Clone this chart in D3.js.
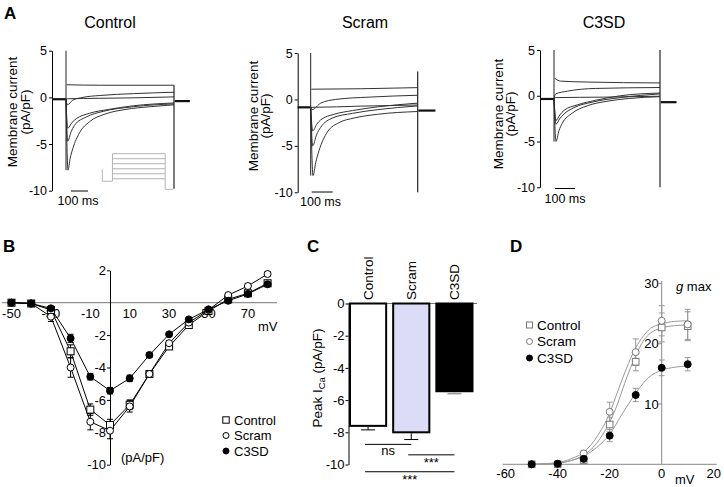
<!DOCTYPE html>
<html><head><meta charset="utf-8">
<script src="https://cdn.jsdelivr.net/npm/d3@7"></script>
<style>body{margin:0;background:#fff}svg{display:block}</style>
</head><body><svg id="c" width="724" height="487"></svg>
<script>
// ================= DATA =================
const traceGroups = ["Control", "Scram", "C3SD"];
const currentTicks = [5, 0, -5, -10];
const stepEnd = 640; // ms, end of depolarising step
// Panel A traces: [time (ms), current (pA/pF)]
const controlTraces = [
  [[4,1.35],[200,1.3],[640,1.3]],
  [[0,-0.2],[8,-0.8],[40,-0.3],[100,0],[200,0.2],[400,0.4],[640,0.55]],
  [[0,-0.2],[8,-0.15],[200,-0.1],[400,-0.05],[640,0.05]],
  [[0,-0.2],[10,-3.3],[35,-2.7],[60,-2.3],[140,-1.7],[250,-1.3],[400,-0.9],[640,-0.6]],
  [[0,-0.2],[10,-4.7],[30,-3.7],[50,-3.0],[120,-2.1],[220,-1.5],[400,-1.0],[640,-0.7]],
  [[0,-0.2],[12,-7.8],[25,-6.5],[40,-5.5],[80,-3.8],[140,-2.6],[230,-1.8],[350,-1.3],[500,-1.0],[640,-0.8]]
];
const scramTraces = [
  [[4,1.1],[300,1.15],[640,1.27]],
  [[0,-0.85],[8,-1.1],[60,-0.4],[150,0],[350,0.25],[640,0.45]],
  [[0,-0.85],[8,-0.85],[300,-0.72],[640,-0.6]],
  [[0,-0.85],[12,-3.4],[35,-2.7],[60,-2.2],[140,-1.6],[250,-1.2],[400,-0.8],[640,-0.4]],
  [[0,-0.85],[12,-5.0],[35,-3.8],[60,-3.0],[130,-2.0],[250,-1.5],[400,-1.1],[640,-0.7]],
  [[0,-0.85],[14,-8.2],[30,-6.8],[50,-5.5],[100,-3.5],[170,-2.5],[260,-2.0],[400,-1.6],[640,-1.3]]
];
const c3sdTraces = [
  [[5,1.9],[40,1.6],[200,1.5],[640,1.4]],
  [[0,-0.35],[10,0.2],[80,0.5],[250,0.8],[640,0.9]],
  [[0,-0.35],[10,-0.2],[300,-0.15],[640,-0.05]],
  [[0,-0.35],[12,-2.7],[35,-2.1],[60,-1.6],[140,-1.0],[250,-0.5],[400,0],[640,0.3]],
  [[0,-0.35],[12,-3.1],[35,-2.5],[60,-2.0],[120,-1.3],[230,-0.7],[400,-0.2],[640,0.2]],
  [[0,-0.35],[12,-5.0],[30,-3.8],[50,-3.0],[110,-1.9],[200,-1.1],[320,-0.6],[450,-0.3],[640,-0.1]]
];
// holding currents and capacitive spikes: pre, post, preStart(ms), postEnd(ms), onset spike top, end spike top/bottom
const controlBase = {pre:-0.2, post:-0.4, preStart:-83, postEnd:734, onsetTop:5, endTop:1.3, endBottom:-9.8};
const scramBase   = {pre:-0.85, post:-1.2, preStart:-78, postEnd:746, onsetTop:5, endTop:3, endBottom:-10};
const c3sdBase    = {pre:-0.35, post:-0.7, preStart:-84, postEnd:740, onsetTop:5, endTop:5, endBottom:-10};
// voltage protocol inset (ms, mV)
const protocolSteps = [0, -10, -20, -30, -40, -50];
const protocolHold = -55, protocolPre = -31, protocolTail = -71;
const protocolTimes = [0, 100, 620, 700];

// Panel B: I-V relationship
const ivVoltages = [-50,-40,-30,-20,-10,0,10,20,30,40,50,60,70,80];
const ivControl  = [0,-0.05,-0.45,-3.0,-6.6,-7.55,-6.3,-4.4,-2.7,-1.38,-0.51,0.21,0.58,1.2];
const ivScram    = [0,-0.05,-0.86,-4.0,-7.35,-7.9,-6.4,-4.4,-2.5,-1.23,-0.45,0.47,1.03,1.77];
const ivC3SD     = [0,-0.05,-0.35,-2.2,-4.57,-5.43,-4.67,-3.23,-1.95,-1.03,-0.41,0.12,0.54,1.14];
const ivControlErr = [0.05,0.05,0.15,0.4,0.35,0.35,0.3,0.2,0.15,0.1,0.1,0.1,0.15,0.15];
const ivScramErr   = [0.05,0.05,0.3,0.6,0.5,0.5,0.35,0.2,0.15,0.1,0.1,0.1,0.15,0.15];
const ivC3SDErr    = [0.05,0.05,0.1,0.25,0.2,0.2,0.2,0.15,0.1,0.1,0.1,0.1,0.1,0.1];
const ivXTicks = [-50,-30,-10,10,30,50,70];
const ivYTicks = [2,-2,-4,-6,-8,-10];

// Panel C: peak ICa
const barCategories = ["Control","Scram","C3SD"];
const barValues = [-7.6, -8.0, -5.45];
const barErrors = [0.25, 0.45, 0.15];
const barYTicks = [0,-2,-4,-6,-8,-10];
const sigTests = [
  {a:0, b:1, level:-8.75, label:"ns"},
  {a:1, b:2, level:-9.4, label:"***"},
  {a:0, b:2, level:-10.45, label:"***"}
];

// Panel D: conductance
const gVoltages = [-50,-40,-30,-20,-10,0,10];
const gControl = [0,0,0.7,6.6,17.0,22.7,22.9];
const gScram   = [0,0,1.8,8.7,18.6,23.8,23.2];
const gC3SD    = [0,0.1,0.9,4.75,11.5,16.0,16.6];
const gControlErr = [0,0,0.4,1.2,1.5,2.4,2.4];
const gScramErr   = [0,0,0.5,1.6,2.2,2.5,2.5];
const gC3SDErr    = [0,0,0.3,1.0,1.1,1.3,1.1];
const fitControl = [[-50,0],[-40,0.2],[-35,0.6],[-30,1.5],[-25,3.5],[-20,7.0],[-17,10],[-15,12.5],[-12,16],[-10,18],[-7,20.5],[-5,21.5],[0,22.6],[5,23],[10,23.1]];
const fitScram   = [[-50,0],[-40,0.3],[-35,0.9],[-30,2.0],[-25,4.5],[-20,8.5],[-17,12],[-15,14.3],[-12,17.5],[-10,19.3],[-7,21.3],[-5,22.3],[0,23.3],[5,23.7],[10,23.8]];
const fitC3SD    = [[-50,0],[-40,0.2],[-35,0.6],[-30,1.4],[-25,2.8],[-20,5.0],[-15,8.5],[-12,10.5],[-10,11.8],[-7,13.5],[-5,14.4],[0,15.6],[5,16.1],[10,16.3]];
const gXTicks = [-60,-40,-20,0,20];
const gYTicks = [10,20,30];

// ================= DRAWING =================
const FONT = '"Liberation Sans", Arial, Helvetica, sans-serif';
const svg = d3.select("#c");
svg.append("rect").attr("width",724).attr("height",487).attr("fill","#fff");
const fmt = d => String(d);

function text(x, y, s, size, opts = {}) {
  const t = svg.append("text").attr("x", x).attr("y", y).text(s)
    .attr("font-family", FONT).attr("font-size", size).attr("fill", opts.fill || "#000")
    .attr("text-anchor", opts.anchor || "start");
  if (opts.weight) t.attr("font-weight", opts.weight);
  if (opts.rotate) t.attr("transform", `rotate(-90,${x},${y})`);
  if (opts.dy) t.attr("dy", opts.dy);
  if (opts.style) t.attr("font-style", opts.style);
  return t;
}
function styleAxis(g, size, color) {
  g.selectAll("text").attr("font-family", FONT).attr("font-size", size).attr("fill", "#000");
  g.selectAll("path,line").attr("stroke", color || "#000").attr("stroke-width", 1);
}

// ---------- Panel A ----------
text(4, 19, "A", 17, {weight:"bold"});
const panelsA = [
  {name:traceGroups[0], traces:controlTraces, base:controlBase, axisX:52, onsetX:66, endX:174, y5:50.7, y10:190.7, titleX:110, labX:[12,25], labY:112, bar:[71,88,191], barTextX:78, barTextY:205, inset:true},
  {name:traceGroups[1], traces:scramTraces, base:scramBase, axisX:297.7, onsetX:310.7, endX:417.7, y5:53, y10:192.3, titleX:365, labX:[253,265], labY:116, bar:[311.7,332.7,192], barTextX:320.5, barTextY:206, inset:false},
  {name:traceGroups[2], traces:c3sdTraces, base:c3sdBase, axisX:540, onsetX:554, endX:660, y5:50, y10:187.3, titleX:604, labX:[498,510], labY:114, bar:[555,575,188.5], barTextX:565, barTextY:203, inset:false}
];
panelsA.forEach(p => {
  const t = d3.scaleLinear().domain([0, stepEnd]).range([p.onsetX, p.endX]);
  const y = d3.scaleLinear().domain([5, -10]).range([p.y5, p.y10]);
  const ax = svg.append("g").attr("transform", `translate(${p.axisX},0)`)
    .call(d3.axisLeft(y).tickValues(currentTicks).tickSize(3).tickSizeOuter(0).tickFormat(fmt));
  styleAxis(ax, 12.5, "#000");
  ax.selectAll("text").attr("x", -5);
  text(p.titleX, 28, p.name, 16, {anchor:"middle"});
  text(p.labX[0], p.labY, "Membrane current", 13.5, {anchor:"middle", rotate:true, dy:"0.35em"});
  text(p.labX[1], p.labY, "(pA/pF)", 13.5, {anchor:"middle", rotate:true, dy:"0.35em"});
  // scale bar
  svg.append("line").attr("x1", p.bar[0]).attr("x2", p.bar[1]).attr("y1", p.bar[2]).attr("y2", p.bar[2]).attr("stroke", "#000").attr("stroke-width", 1);
  text(p.barTextX, p.barTextY, "100 ms", 12.5, {anchor:"middle"});

  const line = d3.line().x(d => t(d[0])).y(d => y(d[1])).curve(d3.curveMonotoneX);
  const b = p.base;
  const g = svg.append("g").attr("fill", "none");
  g.append("path").attr("d", line([[b.preStart, b.pre], [0, b.pre]])).attr("stroke", "#111").attr("stroke-width", 2.2);
  g.append("path").attr("d", line([[stepEnd + 4, b.post], [b.postEnd, b.post]])).attr("stroke", "#111").attr("stroke-width", 2.2);
  p.traces.forEach(tr => {
    g.append("path").attr("d", line(tr)).attr("stroke", "#333").attr("stroke-width", 1);
  });
  const minPeak = d3.min(p.traces, tr => d3.min(tr, d => d[1]));
  g.append("line").attr("x1", t(0)).attr("x2", t(0)).attr("y1", y(b.onsetTop)).attr("y2", y(minPeak))
    .attr("stroke", "#222").attr("stroke-width", 1);
  g.append("line").attr("x1", t(stepEnd)).attr("x2", t(stepEnd)).attr("y1", y(b.endTop)).attr("y2", y(b.endBottom))
    .attr("stroke", "#222").attr("stroke-width", 1.2);

  if (p.inset) {
    const tx = d3.scaleLinear().domain([0, 700]).range([102.3, 173.3]);
    const vy = d3.scaleLinear().domain([0, -71]).range([153.7, 189.3]);
    const pl = d3.line().x(d => tx(d[0])).y(d => vy(d[1]));
    const ig = svg.append("g").attr("fill", "none").attr("stroke", "#b4b4b4").attr("stroke-width", 1);
    const [t0, t1, t2, t3] = protocolTimes;
    ig.append("path").attr("d", pl([[t0, protocolPre], [t0, protocolHold], [t1, protocolHold], [t1, d3.max(protocolSteps)]]));
    protocolSteps.forEach(v => ig.append("path").attr("d", pl([[t1, v], [t2, v]])));
    ig.append("path").attr("d", pl([[t2, d3.max(protocolSteps)], [t2, protocolTail], [t3, protocolTail]]));
  }
});

// ---------- Panel B ----------
text(3, 252, "B", 17, {weight:"bold"});
const xB = d3.scaleLinear().domain([-50, 80]).range([11.5, 267.6]);
const yB = d3.scaleLinear().domain([2, -10]).range([270.3, 464.7]);
svg.append("line").attr("x1", 2).attr("x2", 277).attr("y1", yB(0)).attr("y2", yB(0)).attr("stroke", "#777").attr("stroke-width", 1);
const ayB = svg.append("g").attr("transform", `translate(${xB(0)},0)`)
  .call(d3.axisLeft(yB).tickValues(ivYTicks).tickSize(3).tickSizeOuter(0).tickFormat(fmt));
styleAxis(ayB, 13, "#000");
ayB.selectAll("text").attr("x", -4);
ivXTicks.forEach(v => text(xB(v), yB(0) + 15, fmt(v), 13, {anchor:"middle"}));
text(258, 331, "mV", 13);
text(121, 462, "(pA/pF)", 13);

const ivSeries = [
  {vals:ivControl, err:ivControlErr, shape:"square", fill:"#fff"},
  {vals:ivScram, err:ivScramErr, shape:"circle", fill:"#fff"},
  {vals:ivC3SD, err:ivC3SDErr, shape:"circle", fill:"#000"}
];
function marker(g, shape, x, y, fill, stroke, size) {
  if (shape === "square") {
    g.append("rect").attr("x", x - size).attr("y", y - size).attr("width", 2 * size).attr("height", 2 * size)
      .attr("fill", fill).attr("stroke", stroke).attr("stroke-width", 1);
  } else {
    g.append("circle").attr("cx", x).attr("cy", y).attr("r", size).attr("fill", fill).attr("stroke", stroke).attr("stroke-width", 1);
  }
}
const lineB = d3.line().x(d => xB(d[0])).y(d => yB(d[1]));
const gB = svg.append("g");
ivSeries.forEach(s => {
  gB.append("path").attr("d", lineB(ivVoltages.map((v, i) => [v, s.vals[i]]))).attr("fill", "none").attr("stroke", "#000").attr("stroke-width", 1);
});
ivSeries.forEach(s => {
  ivVoltages.forEach((v, i) => {
    const x = xB(v), y1 = yB(s.vals[i] + s.err[i]), y2 = yB(s.vals[i] - s.err[i]);
    gB.append("line").attr("x1", x).attr("x2", x).attr("y1", y1).attr("y2", y2).attr("stroke", "#000");
    [y1, y2].forEach(yy => gB.append("line").attr("x1", x - 3).attr("x2", x + 3).attr("y1", yy).attr("y2", yy).attr("stroke", "#000"));
  });
});
ivSeries.forEach(s => {
  ivVoltages.forEach((v, i) => marker(gB, s.shape, xB(v), yB(s.vals[i]), s.fill, "#000", 3.5));
});
ivSeries.forEach((s, i) => {
  const yy = 420 + i * 15.5;
  marker(gB, s.shape, 226, yy, s.fill, "#000", s.shape === "square" ? 3.2 : 3);
  text(234, yy, traceGroups[i], 13, {dy:"0.35em"});
});

// ---------- Panel C ----------
text(307, 252, "C", 17, {weight:"bold"});
const yC = d3.scaleLinear().domain([0, -10]).range([303.5, 464.5]);
const xC = d3.scaleBand().domain(barCategories).range([349, 473.5]).paddingInner(0.116).paddingOuter(0);
svg.append("line").attr("x1", 348).attr("x2", 477).attr("y1", yC(0)).attr("y2", yC(0)).attr("stroke", "#777");
const gC = svg.append("g");
barCategories.forEach((c, i) => {
  const x = xC(c), w = xC.bandwidth();
  gC.append("rect").attr("x", x + 1).attr("y", yC(0)).attr("width", w - 2).attr("height", yC(barValues[i]) - yC(0))
    .attr("fill", i === 0 ? "#fff" : i === 1 ? "#dcdcf6" : "#000").attr("stroke", "#000").attr("stroke-width", 2);
  const cx = x + w / 2, ye = yC(barValues[i] - barErrors[i]);
  const col = i === 2 ? "#999" : "#000";
  gC.append("line").attr("x1", cx).attr("x2", cx).attr("y1", yC(barValues[i]) + 1).attr("y2", ye).attr("stroke", col);
  gC.append("line").attr("x1", cx - 7).attr("x2", cx + 7).attr("y1", ye).attr("y2", ye).attr("stroke", col).attr("stroke-width", i === 2 ? 1.5 : 1);
  text(cx, 300, c, 13.5, {rotate:true, dy:"0.35em"});
});
const ayC = svg.append("g").attr("transform", "translate(348.5,0)")
  .call(d3.axisLeft(yC).tickValues(barYTicks).tickSize(3).tickSizeOuter(0).tickFormat(fmt));
styleAxis(ayC, 13, "#000");
ayC.selectAll("text").attr("x", -4);
const yl = svg.append("text").attr("transform", "rotate(-90,317,378)").attr("x", 317).attr("y", 378).attr("dy", "0.35em")
  .attr("text-anchor", "middle").attr("font-family", FONT).attr("font-size", 13.5);
yl.append("tspan").text("Peak I");
yl.append("tspan").text("Ca").attr("font-size", 9.5).attr("dy", "0.3em");
yl.append("tspan").text(" (pA/pF)").attr("dy", "-0.2em");
sigTests.forEach(s => {
  const xa = xC(barCategories[s.a]) + xC.bandwidth() / 2 - 3;
  const xb = xC(barCategories[s.b]) + xC.bandwidth() / 2;
  const yy = yC(s.level);
  gC.append("line").attr("x1", xa).attr("x2", xb).attr("y1", yy).attr("y2", yy).attr("stroke", "#000");
  text((xa + xb) / 2, yy + (s.label === "ns" ? 10.5 : 12.5), s.label, 13, {anchor:"middle"});
});

// ---------- Panel D ----------
text(510, 252, "D", 17, {weight:"bold"});
const xD = d3.scaleLinear().domain([-60, 20]).range([505.7, 713.7]);
const yD = d3.scaleLinear().domain([0, 30]).range([464.3, 283.4]);
svg.append("line").attr("x1", 502.7).attr("x2", 716.7).attr("y1", yD(0)).attr("y2", yD(0)).attr("stroke", "#888");
svg.append("line").attr("x1", xD(0)).attr("x2", xD(0)).attr("y1", yD(0)).attr("y2", 281).attr("stroke", "#888");
gYTicks.forEach(v => {
  svg.append("line").attr("x1", xD(0) - 3).attr("x2", xD(0)).attr("y1", yD(v)).attr("y2", yD(v)).attr("stroke", "#888");
  text(xD(0) - 3, yD(v), fmt(v), 13, {anchor:"end", dy:"0.35em"});
});
gXTicks.forEach(v => text(xD(v), 478, fmt(v), 13, {anchor:"middle"}));
text(675, 484, "mV", 13);
const gm = svg.append("text").attr("x", 676).attr("y", 291).attr("font-family", FONT).attr("font-size", 13);
gm.append("tspan").text("g").attr("font-style", "italic");
gm.append("tspan").text(" max");

const fitLine = d3.line().x(d => xD(d[0])).y(d => yD(d[1])).curve(d3.curveMonotoneX);
const gD = svg.append("g");
[fitControl, fitScram, fitC3SD].forEach(f => gD.append("path").attr("d", fitLine(f)).attr("fill", "none").attr("stroke", "#999").attr("stroke-width", 1));
const gSeries = [
  {vals:gControl, err:gControlErr, shape:"square", fill:"#fff", stroke:"#777"},
  {vals:gScram, err:gScramErr, shape:"circle", fill:"#fff", stroke:"#777"},
  {vals:gC3SD, err:gC3SDErr, shape:"circle", fill:"#000", stroke:"#000"}
];
gSeries.forEach(s => {
  gVoltages.forEach((v, i) => {
    if (!s.err[i]) return;
    const x = xD(v), y1 = yD(s.vals[i] + s.err[i]), y2 = yD(s.vals[i] - s.err[i]);
    gD.append("line").attr("x1", x).attr("x2", x).attr("y1", y1).attr("y2", y2).attr("stroke", "#999");
    [y1, y2].forEach(yy => gD.append("line").attr("x1", x - 3).attr("x2", x + 3).attr("y1", yy).attr("y2", yy).attr("stroke", "#999"));
  });
});
gSeries.forEach(s => {
  gVoltages.forEach((v, i) => marker(gD, s.shape, xD(v), yD(s.vals[i]), s.fill, s.stroke, s.shape === "square" ? 3.3 : 3.5));
});
gSeries.forEach((s, i) => {
  const yy = 325 + i * 16.5;
  marker(gD, s.shape, 529.5, yy, s.fill, s.stroke, 3);
  text(537, yy, traceGroups[i], 13.5, {dy:"0.35em"});
});
</script>
</body></html>
